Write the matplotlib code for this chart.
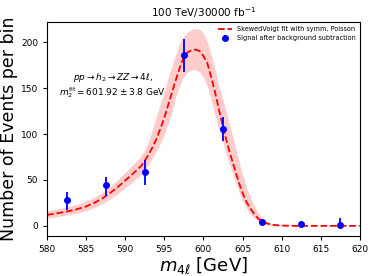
import numpy as np
import matplotlib.pyplot as plt

# fit curve and its band
fit_x = [580, 581, 582, 583, 584, 585, 586, 587, 588, 589, 590, 591, 592, 592.5, 593,
         593.5, 594, 594.5, 595, 595.5, 596, 596.5, 597, 597.5, 598, 598.5, 599,
         599.5, 600, 600.5, 601, 601.5, 602, 602.5, 603, 603.5, 604, 604.5, 605,
         605.5, 606, 606.5, 607, 607.5, 608, 608.5, 609, 610, 611, 612, 614, 616,
         618, 620]
fit_y = [12, 13.3, 14.8, 16.5, 18.6, 21.2, 25, 29.5, 35.5, 42, 49.5, 57, 65, 71, 78,
         86, 95, 106, 118, 132, 146, 160, 173, 184, 189, 191.5, 192,
         190.5, 185, 177, 162, 145, 126, 108, 91, 76, 62, 48, 36,
         26, 19, 13, 8, 5, 3, 1.8, 1, 0.4, 0.1, 0, 0, 0,
         0, 0]
fit_lo = [8.5, 9.7, 11, 12.5, 14.3, 16.6, 19.8, 23.8, 29, 35, 41.5, 48.5, 56, 61, 67,
          74, 82, 90, 100, 112, 125, 142, 154, 163, 168, 170, 170,
          168, 162, 152, 137, 120, 104, 90, 76, 63, 50, 38, 27,
          19, 13, 8.5, 5, 2.8, 1.5, 0.8, 0.4, 0.1, 0, 0, 0, 0,
          0, 0]
fit_hi = [16.5, 18, 19.6, 21.5, 24, 27, 31, 36, 42.5, 50, 58.5, 67, 76, 83, 93,
          106, 120, 134, 147, 162, 175, 188, 200, 207, 211, 214, 215,
          214.5, 210, 200, 186, 170, 152, 137, 121, 105, 89, 72, 56,
          42, 31, 22, 14, 9, 5.5, 3.2, 1.8, 0.8, 0.3, 0.1, 0, 0,
          0, 0]

# signal points after background subtraction
sig_x = [582.5, 587.5, 592.5, 597.5, 602.5, 607.5, 612.5, 617.5]
sig_y = [28, 44, 59, 186, 106, 4.5, 2.5, 1]
err_lo = [10.5, 11, 14, 18, 13, 2, 1.5, 1.5]
err_hi = [9, 9, 13, 18, 13, 2, 1.5, 7.5]

fig = plt.figure(figsize=(3.74, 2.76), dpi=100)
ax = fig.add_axes([0.126, 0.145, 0.836, 0.775])

ax.fill_between(fit_x, fit_lo, fit_hi, color="red", alpha=0.2, lw=0)
ax.plot(fit_x, fit_y, "r--", lw=1.3, label="SkewedVoigt fit with symm. Poisson")
ax.errorbar(sig_x, sig_y, yerr=[err_lo, err_hi], fmt="o", color="blue",
            ms=4, elinewidth=1.3, label="Signal after background subtraction")

ax.text(0.21, 0.74, r"$pp\rightarrow h_2\rightarrow ZZ\rightarrow 4\ell$,",
        transform=ax.transAxes, fontsize=6.5, ha="center", va="center")
ax.text(0.21, 0.67, r"$m_2^{\rm fit}=601.92\pm3.8$ GeV", transform=ax.transAxes,
        fontsize=6.5, ha="center", va="center")

ax.set_xlim(580, 620)
ax.set_ylim(-11, 222)
ax.set_xticks(np.arange(580, 621, 5))
ax.set_yticks([0, 50, 100, 150, 200])
ax.tick_params(labelsize=6.5, length=3)
ax.set_xlabel(r"$m_{4\ell}$ [GeV]", fontsize=13, labelpad=1)
ax.set_ylabel("Number of Events per bin", fontsize=12.5, labelpad=2)
ax.set_title(r"100 TeV/30000 fb$^{-1}$", fontsize=7.5, pad=4)
ax.legend(loc="upper right", fontsize=4.7, frameon=False, borderaxespad=0.2,
          handlelength=2.2)

fig.savefig("out.png", dpi=100)
